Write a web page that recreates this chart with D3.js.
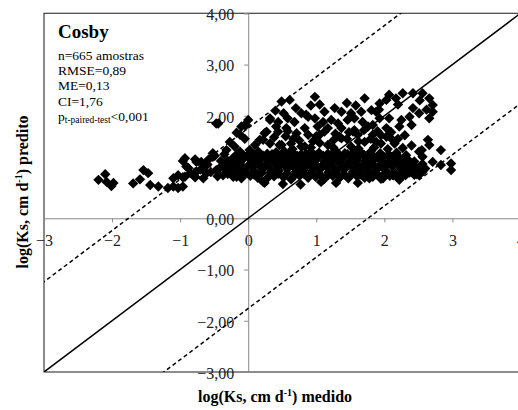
<!DOCTYPE html>
<html>
<head>
<meta charset="utf-8">
<script src="https://cdn.jsdelivr.net/npm/d3@7"></script>
<style>
  html, body { margin: 0; padding: 0; background: #fff; }
  svg { display: block; }
  svg text { font-family: "Liberation Serif", "Times New Roman", "DejaVu Serif", serif; }
</style>
</head>
<body>
<svg id="chart" width="518" height="410"></svg>
<script>
// Axis ticks
const xTicks = [-3, -2, -1, 0, 1, 2, 3, 4];
const yTicks = [-3, -2, -1, 0, 1, 2, 3, 4];

// Summary statistics shown in the panel
const siteName = "Cosby";
const nSamples = 665;
const rmse = 0.89;
const me = 0.13;
const ci = 1.76;

// log Ks measured (x) and predicted (y)
const measured = [
  // sparse group on the left
  -2.10, -2.20, -2.08, -1.98, -2.01, -1.54, -1.47, -1.59, -1.69, -1.44, -1.32, -1.18, -1.10, -1.03, -0.96,
  -0.96, -0.76, -0.88, -0.52, -1.10, -1.03, -0.93, -0.78, -0.66, -0.61, -0.47, -0.32, -0.37, -0.17, -0.08,
  -0.52, -0.27, -0.12, -0.03, -0.44, -0.32, -0.12, 0.12, 0.22,
  -0.47, 0.00, -0.05, -0.10, -0.17, -0.15, -0.49, -0.93, -0.78, -0.69, -0.91, -0.64, -0.76, -0.96, -0.78, 0.32,
  -0.60, -0.55, -0.42, -0.40, -0.28, -0.22, -0.45, -0.85, -0.70, -0.58, -0.35, -0.20, -0.05,
  // dense band
  -0.22, -0.10, 0.03, 0.14, 0.27, 0.38, 0.52, 0.63, 0.75, 0.88, 0.99, 1.12, 1.24, 1.35, 1.47, 1.60, 1.71, 1.83, 1.95, 2.08, 2.19, 2.31, 2.44,
  -0.30, -0.16, -0.03, 0.08, 0.20, 0.32, 0.44, 0.57, 0.69, 0.82, 0.93, 1.05, 1.17, 1.29, 1.41, 1.53, 1.66, 1.77, 1.89, 2.01, 2.13, 2.25, 2.37, 2.48,
  -0.28, -0.15, -0.04, 0.09, 0.21, 0.33, 0.45, 0.58, 0.70, 0.81, 0.94, 1.06, 1.18, 1.30, 1.41, 1.54, 1.66, 1.78, 1.90, 2.02, 2.14, 2.26, 2.38, 2.50,
  -0.35, -0.20, -0.08, 0.05, 0.17, 0.30, 0.42, 0.55, 0.67, 0.79, 0.91, 1.03, 1.15, 1.27, 1.39, 1.51, 1.63, 1.75, 1.87, 1.99, 2.11, 2.23, 2.35, 2.47, 2.60,
  -0.24, -0.12, 0.01, 0.13, 0.25, 0.37, 0.49, 0.61, 0.74, 0.86, 0.97, 1.09, 1.21, 1.33, 1.45, 1.57, 1.69, 1.81, 1.93, 2.05, 2.17, 2.29, 2.41, 2.56,
  -0.30, -0.11, 0.04, 0.16, 0.28, 0.40, 0.52, 0.64, 0.76, 0.88, 1.00, 1.12, 1.24, 1.36, 1.48, 1.60, 1.72, 1.84, 1.96, 2.08, 2.20, 2.32, 2.44,
  -0.18, -0.05, 0.07, 0.19, 0.31, 0.43, 0.55, 0.67, 0.79, 0.91, 1.03, 1.15, 1.27, 1.39, 1.51, 1.63, 1.75, 1.87, 1.99, 2.11, 2.23, 2.35,
  -0.08, 0.09, 0.22, 0.35, 0.48, 0.60, 0.72, 0.85, 0.98, 1.10, 1.22, 1.34, 1.46, 1.58, 1.70, 1.82, 1.95, 2.07, 2.20,
  0.02, 0.15, 0.28, 0.41, 0.53, 0.66, 0.78, 0.92, 1.04, 1.17, 1.29, 1.42, 1.55, 1.68, 1.80, 1.94, 2.06, 2.18,
  // below the band
  0.24, 0.51, 1.07, 1.29, 1.61, 1.78, 2.22, 2.44, 2.56, 0.77,
  // upper arc
  0.98, 1.71, 0.49, 0.61, 0.78, 0.88, 1.12, 1.27, 1.37, 1.51, 1.66, 1.81, 0.58, 0.44, 0.68, 0.98, 1.10, 1.22,
  1.32, 1.46, 1.56, 1.68, 0.56, 0.83, 1.02, 1.17, 1.37, 1.56, 1.76, 0.44, 0.71, 0.88, 1.37, 1.12, 1.61, 0.49,
  0.63, 0.83, 1.17, 1.51, 1.71,
  2.07, 2.27, 2.42, 2.56, 2.66, 2.71, 2.71, 2.66, 1.93, 2.03, 2.17, 1.88, 2.42, 2.51, 2.37, 2.25, 2.40, 2.07,
  1.93, 1.83, 2.03, 2.22, 1.83, 2.03, 1.95, 2.15, 2.27, 2.64, 2.66, 2.83, 2.98, 2.98, 2.83, 2.71, 2.56, 2.51,
  2.42, 2.51, 2.27, 2.12, 1.88, 1.98, 2.37, 2.32,
  0.32, 0.85, 0.27, 0.22, 0.46, 0.78, 1.05, 1.34, 1.54, 1.88, 2.12, 0.41, 0.24, 0.17, 0.32, 0.02, 0.10,
  0.38, 0.55, 0.66, 0.75, 0.95, 1.05, 1.25, 1.45, 1.62, 1.80, 1.95, 2.10, 2.30, 0.40, 0.52, 0.70, 0.92, 1.05,
  1.45, 1.58, 1.92, 2.20, 2.52, 2.62, 0.65, 0.92, 1.25, 1.62, 1.85, 2.05, 2.40, 2.55, 0.58, 1.00, 1.28, 1.48,
  1.70, 1.90, 2.20
];
const predicted = [
  0.86, 0.75, 0.71, 0.69, 0.63, 0.94, 0.88, 0.76, 0.68, 0.65, 0.62, 0.59, 0.62, 0.59, 0.62,
  1.12, 1.10, 0.98, 1.20, 0.78, 0.84, 0.81, 0.81, 0.78, 0.88, 0.94, 1.04, 0.84, 0.81, 0.91,
  1.27, 1.49, 1.63, 1.82, 1.85, 1.33, 1.30, 1.20, 0.71,
  1.85, 1.92, 1.82, 1.79, 1.67, 1.27, 1.22, 1.17, 1.15, 1.10, 1.01, 1.01, 0.91, 0.80, 0.80, 1.92,
  1.05, 0.90, 0.98, 1.12, 0.90, 1.18, 0.82, 0.88, 0.95, 1.15, 1.25, 1.40, 1.55,
  0.81, 0.78, 0.83, 0.79, 0.77, 0.82, 0.80, 0.76, 0.84, 0.79, 0.81, 0.77, 0.83, 0.80, 0.78, 0.82, 0.79, 0.81, 0.77, 0.83, 0.80, 0.84, 0.86,
  0.87, 0.85, 0.88, 0.86, 0.89, 0.84, 0.87, 0.88, 0.85, 0.87, 0.89, 0.86, 0.84, 0.88, 0.86, 0.87, 0.85, 0.89, 0.86, 0.88, 0.84, 0.87, 0.89, 0.86,
  0.94, 0.91, 0.95, 0.92, 0.96, 0.90, 0.93, 0.97, 0.91, 0.94, 0.92, 0.96, 0.90, 0.93, 0.95, 0.91, 0.94, 0.92, 0.96, 0.93, 0.90, 0.95, 0.92, 0.94,
  0.99, 1.01, 0.98, 1.00, 1.02, 0.99, 0.97, 1.01, 1.00, 0.98, 1.02, 0.99, 1.01, 0.97, 1.00, 1.02, 0.98, 1.01, 0.99, 1.00, 1.02, 0.98, 1.01, 0.99, 0.97,
  1.05, 1.08, 1.04, 1.07, 1.03, 1.09, 1.06, 1.04, 1.08, 1.05, 1.07, 1.03, 1.06, 1.09, 1.04, 1.07, 1.05, 1.08, 1.03, 1.06, 1.09, 1.05, 1.02, 1.06,
  1.12, 1.11, 1.13, 1.10, 1.14, 1.12, 1.11, 1.13, 1.10, 1.12, 1.14, 1.11, 1.13, 1.12, 1.10, 1.13, 1.12, 1.14, 1.11, 1.12, 1.10, 1.13, 1.11,
  1.17, 1.20, 1.16, 1.19, 1.21, 1.17, 1.18, 1.22, 1.16, 1.19, 1.21, 1.17, 1.20, 1.18, 1.16, 1.21, 1.19, 1.17, 1.20, 1.18, 1.16, 1.14,
  1.23, 1.24, 1.22, 1.25, 1.23, 1.24, 1.22, 1.25, 1.23, 1.22, 1.24, 1.23, 1.25, 1.22, 1.24, 1.23, 1.22, 1.24, 1.21,
  1.27, 1.30, 1.26, 1.29, 1.31, 1.27, 1.25, 1.30, 1.28, 1.26, 1.31, 1.27, 1.29, 1.25, 1.30, 1.27, 1.24, 1.28,
  0.69, 0.67, 0.71, 0.69, 0.69, 0.78, 0.75, 0.85, 0.91, 0.66,
  2.37, 2.34, 2.28, 2.31, 2.05, 1.98, 2.08, 2.15, 2.08, 2.05, 2.08, 2.11, 1.95, 1.88, 1.88, 1.95, 1.88, 1.92,
  1.85, 1.92, 1.95, 1.88, 1.76, 1.76, 1.79, 1.76, 1.76, 1.72, 1.79, 1.69, 1.66, 1.63, 1.56, 1.69, 1.63, 1.43,
  1.46, 1.40, 1.43, 1.40, 1.49,
  2.41, 2.44, 2.44, 2.44, 2.34, 2.21, 2.08, 1.95, 2.24, 2.31, 2.34, 2.08, 2.15, 2.05, 1.98, 1.92, 1.82, 1.95,
  1.95, 1.82, 1.76, 1.79, 1.63, 1.59, 1.46, 1.46, 1.37, 1.53, 1.43, 1.33, 1.07, 0.94, 1.04, 1.10, 1.20, 1.30,
  0.91, 0.85, 0.85, 0.85, 0.88, 0.78, 1.04, 1.23,
  1.95, 2.02, 1.69, 1.53, 1.43, 1.40, 1.63, 1.59, 1.69, 1.49, 1.53, 1.79, 1.66, 1.53, 1.46, 1.33, 1.43,
  1.58, 1.60, 1.55, 1.52, 1.50, 1.47, 1.52, 1.55, 1.50, 1.55, 1.62, 1.68, 1.62, 2.10, 2.05, 2.15, 2.20, 2.22,
  2.25, 2.20, 2.12, 2.22, 2.30, 2.12, 1.35, 1.38, 1.38, 1.36, 1.38, 1.35, 1.42, 1.33, 1.70, 1.60, 1.65, 1.68,
  1.72, 1.70, 1.55
];

const points = measured.map((m, i) => ({ x: m, y: predicted[i] }));

const svg = d3.select("#chart");

const x = d3.scaleLinear().domain([-3, 4]).range([44, 520.5]);
const y = d3.scaleLinear().domain([-3, 4]).range([372, 13.3]);

const comma2 = d3.formatLocale({ decimal: ",", thousands: ".", grouping: [3], currency: ["", ""] }).format(".2f");
const serif = "Liberation Serif, Times New Roman, DejaVu Serif, serif";

// Plot frame
svg.append("rect")
  .attr("x", x(-3)).attr("y", y(4))
  .attr("width", x(4) - x(-3)).attr("height", y(-3) - y(4))
  .attr("fill", "none").attr("stroke", "#404040").attr("stroke-width", 1.2);

// Axes through the origin
const xAxis = d3.axisBottom(x).tickValues(xTicks).tickSize(4).tickFormat(d3.format("d"));
const gx = svg.append("g").attr("transform", `translate(0,${y(0)})`).call(xAxis)
  .attr("font-family", null);
gx.select(".domain").attr("stroke", "#888").attr("stroke-width", 1);
gx.selectAll(".tick line").attr("stroke", "#888");
gx.selectAll(".tick text")
  .attr("y", 28).attr("dy", null)
  .style("font-family", serif)
  .attr("font-size", 16).attr("fill", "#222");

const yAxis = d3.axisLeft(y).tickValues(yTicks).tickSize(4).tickFormat(comma2);
const gy = svg.append("g").attr("transform", `translate(${x(0)},0)`).call(yAxis)
  .attr("font-family", null);
gy.select(".domain").attr("stroke", "#888").attr("stroke-width", 1);
gy.selectAll(".tick line").attr("stroke", "#888");
gy.selectAll(".tick text")
  .attr("x", -14).attr("dy", "0.4em")
  .style("font-family", serif)
  .attr("font-size", 16).attr("fill", "#222");

// 1:1 line and confidence interval lines
const plot = svg.append("g");
const refLines = [
  { offset: 0, dash: null },
  { offset: ci, dash: "4,3" },
  { offset: -ci, dash: "4,3" }
];
svg.append("clipPath").attr("id", "plotClip").append("rect")
  .attr("x", x(-3)).attr("y", y(4)).attr("width", x(4) - x(-3)).attr("height", y(-3) - y(4));

plot.selectAll("line.ref").data(refLines).join("line")
  .attr("class", "ref")
  .attr("clip-path", "url(#plotClip)")
  .attr("x1", d => x(-3 - Math.max(0, d.offset)))
  .attr("y1", d => y(-3 - Math.max(0, d.offset) + d.offset))
  .attr("x2", d => x(4 - Math.min(0, d.offset)))
  .attr("y2", d => y(4 - Math.min(0, d.offset) + d.offset))
  .attr("stroke", "#000")
  .attr("stroke-width", 1.5)
  .attr("stroke-dasharray", d => d.dash);

// Data points as diamonds
const diamond = d3.symbol().type(d3.symbolSquare).size(54);
plot.selectAll("path.pt").data(points).join("path")
  .attr("class", "pt")
  .attr("d", diamond)
  .attr("transform", d => `translate(${x(d.x)},${y(d.y)}) rotate(45)`)
  .attr("fill", "#000");

// Statistics panel
svg.append("text").attr("x", 58).attr("y", 38)
  .style("font-family", serif).attr("font-weight", "bold").attr("font-size", 19)
  .text(siteName);

const statLines = [
  `n=${nSamples} amostras`,
  `RMSE=${comma2(rmse)}`,
  `ME=${comma2(me)}`,
  `CI=${comma2(ci)}`
];
svg.selectAll("text.stat").data(statLines).join("text")
  .attr("class", "stat")
  .attr("x", 58).attr("y", (d, i) => 60 + i * 15.2)
  .style("font-family", serif).attr("font-size", 13.5)
  .text(d => d);

const pText = svg.append("text").attr("x", 58).attr("y", 120.5)
  .style("font-family", serif).attr("font-size", 13.5);
pText.append("tspan").text("p");
pText.append("tspan").attr("font-size", 9.5).attr("dy", 2.5).text("t-paired-test");
pText.append("tspan").attr("dy", -2.5).text("<0,001");

// Axis titles
function axisTitle(sel, word) {
  sel.style("font-family", serif).attr("font-weight", "bold").attr("font-size", 16)
    .attr("text-anchor", "middle");
  sel.append("tspan").text("log(Ks, cm d");
  sel.append("tspan").attr("font-size", 10).attr("dy", -6).text("-1");
  sel.append("tspan").attr("dy", 6).text(") " + word);
}
svg.append("text").attr("x", 275).attr("y", 402).call(axisTitle, "medido");
svg.append("text").attr("transform", "translate(28,192) rotate(-90)").call(axisTitle, "predito");
</script>
</body>
</html>
